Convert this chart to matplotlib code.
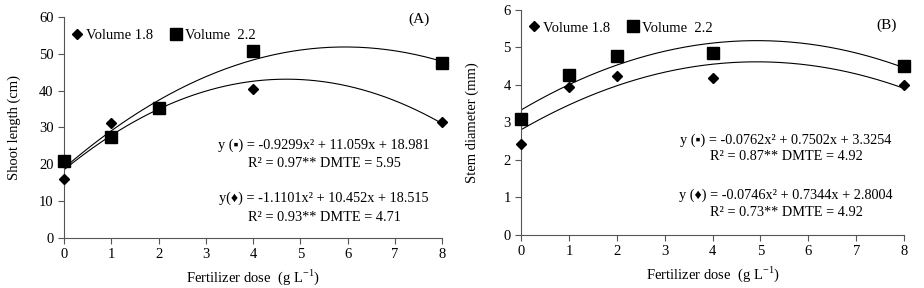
import numpy as np
import matplotlib
matplotlib.use('Agg')
from matplotlib import pyplot as plt

plt.rcParams['font.family'] = ['Liberation Serif', 'DejaVu Sans']
plt.rcParams['font.size'] = 10

dose = [0, 1, 2, 4, 8]
xticks = [0, 1, 2, 3, 4, 5, 6, 7, 8]

# (A) shoot length
shoot_v18 = [16.0, 31.3, 35.6, 40.5, 31.5]
shoot_v22 = [21.0, 27.3, 35.2, 50.8, 47.5]
shoot_fit_v18 = [-1.1101, 10.452, 18.515]
shoot_fit_v22 = [-0.9299, 11.059, 18.981]

# (B) stem diameter
stem_v18 = [2.42, 3.93, 4.23, 4.17, 3.98]
stem_v22 = [3.08, 4.25, 4.75, 4.83, 4.50]
stem_fit_v18 = [-0.0746, 0.7344, 2.8004]
stem_fit_v22 = [-0.0762, 0.7502, 3.3254]

fig = plt.figure(figsize=(9.24, 2.88), dpi=100)
axA = fig.add_axes([0.0693, 0.1736, 0.4091, 0.7674])
axB = fig.add_axes([0.5639, 0.184, 0.4145, 0.783])

xx = np.linspace(0, 8, 200)


def panel(ax, v18, v22, f18, f22, ymax, ylabel, tag, tagpos, eqs):
    ax.plot(xx, np.polyval(f22, xx), color='black', lw=0.8)
    ax.plot(xx, np.polyval(f18, xx), color='black', lw=0.8)
    ax.plot(dose, v18, 'D', color='black', ms=5, label='Volume 1.8', zorder=3, clip_on=False)
    ax.plot(dose, v22, 's', color='black', ms=8.5, label='Volume  2.2', zorder=3, clip_on=False)
    ax.set_xlim(0, 8)
    ax.set_ylim(0, ymax)
    ax.set_xticks(xticks)
    for s in ['top', 'right']:
        ax.spines[s].set_visible(False)
    for s in ['left', 'bottom']:
        ax.spines[s].set_color('#555555')
        ax.spines[s].set_linewidth(0.8)
    ax.tick_params(direction='out', length=4, width=0.8, color='#555555', labelsize=10.5)
    ax.set_ylabel(ylabel, fontsize=10.5)
    ax.set_xlabel('Fertilizer dose  (g L$^{\\mathregular{-1}}$)', fontsize=10.5)
    ax.legend(loc='upper left', ncol=2, frameon=False, handlelength=0.8,
              handletextpad=0.2, columnspacing=1.2, fontsize=10.5,
              borderaxespad=0.1, bbox_to_anchor=(0.0, 0.98))
    ax.text(tagpos[0], tagpos[1], tag, transform=ax.transAxes, ha='center', va='center', fontsize=11)
    for (x, y, s) in eqs:
        ax.text(x, y, s, transform=ax.transAxes, ha='center', va='center', fontsize=10.3)


panel(axA, shoot_v18, shoot_v22, shoot_fit_v18, shoot_fit_v22, 60,
      'Shoot length (cm)', '(A)', (0.94, 0.99),
      [(0.688, 0.421, 'y (▪) = -0.9299x² + 11.059x + 18.981'),
       (0.688, 0.339, 'R² = 0.97** DMTE = 5.95'),
       (0.688, 0.181, 'y(♦) = -1.1101x² + 10.452x + 18.515'),
       (0.688, 0.095, 'R² = 0.93** DMTE = 4.71')])
panel(axB, stem_v18, stem_v22, stem_fit_v18, stem_fit_v22, 6,
      'Stem diameter (mm)', '(B)', (0.955, 0.93),
      [(0.692, 0.421, 'y (▪) = -0.0762x² + 0.7502x + 3.3254'),
       (0.692, 0.346, 'R² = 0.87** DMTE = 4.92'),
       (0.692, 0.177, 'y (♦) = -0.0746x² + 0.7344x + 2.8004'),
       (0.692, 0.098, 'R² = 0.73** DMTE = 4.92')])
axA.yaxis.set_label_coords(-0.115, 0.5)
axB.yaxis.set_label_coords(-0.11, 0.5)

fig.savefig('out.png', dpi=100)
